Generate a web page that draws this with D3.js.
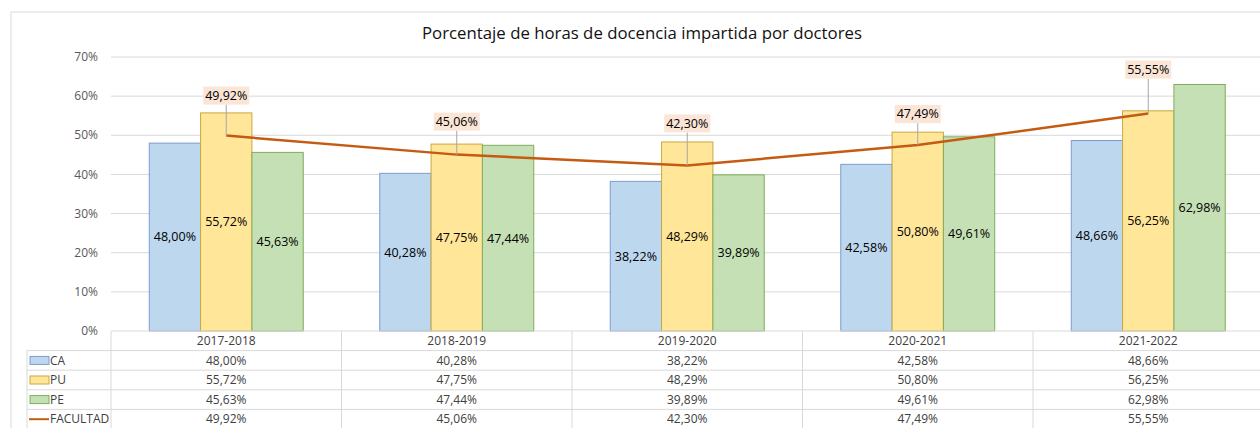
<!DOCTYPE html>
<html>
<head>
<meta charset="utf-8">
<script src="https://cdn.jsdelivr.net/npm/d3@7"></script>
<style>
  body { margin: 0; background: #fff; }
  svg text { font-family: "Open Sans", "Noto Sans", sans-serif; }
</style>
</head>
<body>
<svg id="chart" width="1260" height="428"></svg>
<script>
// data
var years = ["2017-2018", "2018-2019", "2019-2020", "2020-2021", "2021-2022"];
var seriesNames = ["CA", "PU", "PE"];
var ca = [48.00, 40.28, 38.22, 42.58, 48.66];
var pu = [55.72, 47.75, 48.29, 50.80, 56.25];
var pe = [45.63, 47.44, 39.89, 49.61, 62.98];
var facultad = [49.92, 45.06, 42.30, 47.49, 55.55];
var yTicks = [0, 10, 20, 30, 40, 50, 60, 70];

var fills = { CA: "#BDD7EE", PU: "#FFE699", PE: "#C5E0B4" };
var strokes = { CA: "#7C9BD0", PU: "#C9A83E", PE: "#7FAD5C" };
var lineColor = "#C55A11";
// how far each facultad label sits above its point (px)
var labelLift = [40, 33, 42, 31, 44];

var fmt = function(v){ return v.toFixed(2).replace(".", ",") + "%"; };

var svg = d3.select("#chart");
var plotLeft = 111, plotRight = 1263.5, plotTop = 57, plotBottom = 331;
var rowH = 19.6;

var x = d3.scaleBand()
    .domain(years)
    .range([plotLeft, plotRight])
    .paddingInner(0.332)
    .paddingOuter(0.166);

var xs = d3.scaleBand()
    .domain(seriesNames)
    .range([0, x.bandwidth()]);

var y = d3.scaleLinear()
    .domain([0, 70])
    .range([plotBottom, plotTop]);

var step = x.step();

// outer frame of the chart area
svg.append("line").attr("x1", 11).attr("x2", 1260).attr("y1", 12).attr("y2", 12)
    .attr("stroke", "#d9d9d9");
svg.append("line").attr("x1", 11).attr("x2", 11).attr("y1", 12).attr("y2", 428)
    .attr("stroke", "#d9d9d9");

// title
svg.append("text")
    .attr("x", 642).attr("y", 39)
    .attr("text-anchor", "middle")
    .attr("font-size", 16.8)
    .attr("fill", "#111")
    .text("Porcentaje de horas de docencia impartida por doctores");

// gridlines + y ticks
svg.append("g").selectAll("line")
    .data(yTicks.filter(d => d > 0))
    .enter().append("line")
    .attr("x1", plotLeft).attr("x2", 1260)
    .attr("y1", d => y(d)).attr("y2", d => y(d))
    .attr("stroke", "#d9d9d9");

svg.append("g").selectAll("text")
    .data(yTicks)
    .enter().append("text")
    .attr("x", 98)
    .attr("y", d => y(d))
    .attr("dy", ".35em")
    .attr("text-anchor", "end")
    .attr("font-size", 12)
    .attr("fill", "#595959")
    .text(d => d + "%");

// bars
var rows = { CA: ca, PU: pu, PE: pe };
var barData = [];
years.forEach(function(yr, i){
    seriesNames.forEach(function(s){
        barData.push({ year: yr, s: s, v: rows[s][i] });
    });
});

var bars = svg.append("g");
bars.selectAll("rect")
    .data(barData)
    .enter().append("rect")
    .attr("x", d => x(d.year) + xs(d.s))
    .attr("y", d => y(d.v))
    .attr("width", xs.bandwidth())
    .attr("height", d => y(0) - y(d.v))
    .attr("fill", d => fills[d.s])
    .attr("stroke", d => strokes[d.s])
    .attr("stroke-width", 1);

bars.selectAll("text")
    .data(barData)
    .enter().append("text")
    .attr("x", d => x(d.year) + xs(d.s) + xs.bandwidth() / 2)
    .attr("y", d => (y(d.v) + y(0)) / 2)
    .attr("dy", ".35em")
    .attr("text-anchor", "middle")
    .attr("font-size", 12.5)
    .attr("font-weight", 500)
    .attr("fill", "#000")
    .text(d => fmt(d.v));

// facultad line
var cx = d => x(d) + x.bandwidth() / 2;
var line = d3.line()
    .x((d, i) => cx(years[i]))
    .y(d => y(d));

svg.append("path")
    .datum(facultad)
    .attr("d", line)
    .attr("fill", "none")
    .attr("stroke", lineColor)
    .attr("stroke-width", 2.5);

// facultad labels with leader lines
var lab = svg.append("g").selectAll("g")
    .data(facultad)
    .enter().append("g")
    .attr("transform", (d, i) => "translate(" + cx(years[i]) + "," + (y(d) - labelLift[i]) + ")");

lab.append("line")
    .attr("x1", 0).attr("y1", 9)
    .attr("x2", 0).attr("y2", (d, i) => labelLift[i])
    .attr("stroke", "#a6a6a6");

lab.append("rect")
    .attr("x", -23).attr("y", -9)
    .attr("width", 46).attr("height", 18)
    .attr("fill", "#FBE5D6");

lab.append("text")
    .attr("dy", ".35em")
    .attr("text-anchor", "middle")
    .attr("font-size", 12.5)
    .attr("font-weight", 500)
    .attr("fill", "#000")
    .text(d => fmt(d));

// data table under the axis
var table = svg.append("g");
var tableRows = [
    { name: "CA", vals: ca, key: "rect", s: "CA" },
    { name: "PU", vals: pu, key: "rect", s: "PU" },
    { name: "PE", vals: pe, key: "rect", s: "PE" },
    { name: "FACULTAD", vals: facultad, key: "line" }
];
var tBottom = plotBottom + rowH * (tableRows.length + 1);

// horizontal rules
table.append("line")
    .attr("x1", plotLeft).attr("x2", 1260)
    .attr("y1", plotBottom).attr("y2", plotBottom)
    .attr("stroke", "#d9d9d9");
table.selectAll("line.h")
    .data(d3.range(1, tableRows.length + 2))
    .enter().append("line")
    .attr("class", "h")
    .attr("x1", 27).attr("x2", 1260)
    .attr("y1", k => plotBottom + k * rowH).attr("y2", k => plotBottom + k * rowH)
    .attr("stroke", "#d9d9d9");

// vertical rules
table.selectAll("line.v")
    .data(d3.range(0, years.length + 1))
    .enter().append("line")
    .attr("class", "v")
    .attr("x1", k => plotLeft + k * step).attr("x2", k => plotLeft + k * step)
    .attr("y1", plotBottom).attr("y2", tBottom)
    .attr("stroke", "#d9d9d9");
table.append("line")
    .attr("x1", 27).attr("x2", 27)
    .attr("y1", plotBottom + rowH).attr("y2", tBottom)
    .attr("stroke", "#d9d9d9");

// header row
table.selectAll("text.hdr")
    .data(years)
    .enter().append("text")
    .attr("class", "hdr")
    .attr("x", cx)
    .attr("y", plotBottom + rowH / 2)
    .attr("dy", ".35em")
    .attr("text-anchor", "middle")
    .attr("font-size", 12)
    .attr("fill", "#404040")
    .text(d => d);

var tr = table.selectAll("g.row")
    .data(tableRows)
    .enter().append("g")
    .attr("class", "row")
    .attr("transform", (d, i) => "translate(0," + (plotBottom + rowH * (i + 1.5)) + ")");

tr.filter(d => d.key == "rect").append("rect")
    .attr("x", 30).attr("y", -4)
    .attr("width", 19).attr("height", 8)
    .attr("fill", d => fills[d.s])
    .attr("stroke", d => strokes[d.s]);

tr.filter(d => d.key == "line").append("line")
    .attr("x1", 29).attr("x2", 49)
    .attr("y1", 0).attr("y2", 0)
    .attr("stroke", lineColor)
    .attr("stroke-width", 2);

tr.append("text")
    .attr("x", 50)
    .attr("dy", ".35em")
    .attr("font-size", 12)
    .attr("fill", "#404040")
    .text(d => d.name);

tr.selectAll("text.val")
    .data(d => d.vals.map((v, i) => ({ v: v, year: years[i] })))
    .enter().append("text")
    .attr("class", "val")
    .attr("x", d => cx(d.year))
    .attr("dy", ".35em")
    .attr("text-anchor", "middle")
    .attr("font-size", 12)
    .attr("fill", "#404040")
    .text(d => fmt(d.v));
</script>
</body>
</html>
